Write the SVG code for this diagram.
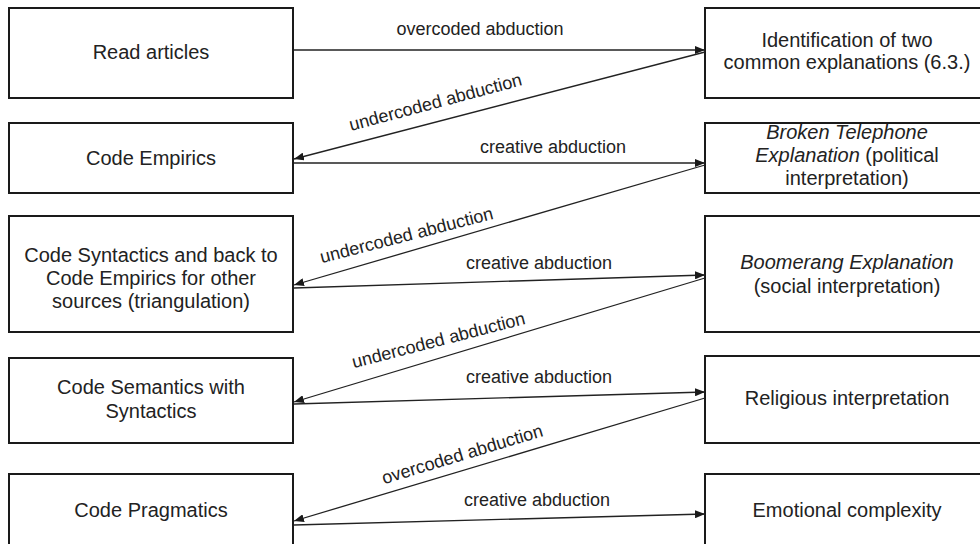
<svg xmlns="http://www.w3.org/2000/svg" width="980" height="544" viewBox="0 0 980 544">
<defs>
<marker id="ah" markerUnits="userSpaceOnUse" markerWidth="10" markerHeight="8" refX="10" refY="4" orient="auto">
<path d="M0,0 L10,4 L0,8 z" fill="#1a1a1a"/>
</marker>
<style>
.box{fill:#fff;stroke:#1a1a1a;stroke-width:2}
.t{font-family:"Liberation Sans",Arial,sans-serif;font-size:20px;fill:#222;text-anchor:middle}
.lbl{font-family:"Liberation Sans",Arial,sans-serif;font-size:18px;fill:#222;text-anchor:middle}
.c{stroke:#222;stroke-width:1.3;fill:none;marker-end:url(#ah)}
.i{font-style:italic}
</style>
</defs>
<rect width="980" height="544" fill="#fff"/>
<g id="n-read"><rect class="box" x="9" y="8" width="284" height="90"/><text class="t" x="151" y="59">Read articles</text></g>
<g id="n-empirics"><rect class="box" x="9" y="123" width="284" height="70"/><text class="t" x="151" y="165">Code Empirics</text></g>
<g id="n-syntactics"><rect class="box" x="9" y="216" width="284" height="116"/><text class="t" x="151" y="262">Code Syntactics and back to</text><text class="t" x="151" y="285">Code Empirics for other</text><text class="t" x="151" y="308">sources (triangulation)</text></g>
<g id="n-semantics"><rect class="box" x="9" y="358" width="284" height="85"/><text class="t" x="151" y="394">Code Semantics with</text><text class="t" x="151" y="418">Syntactics</text></g>
<g id="n-pragmatics"><rect class="box" x="9" y="474" width="284" height="90"/><text class="t" x="151" y="517">Code Pragmatics</text></g>
<g id="n-ident"><rect class="box" x="705" y="8" width="284" height="90"/><text class="t" x="847" y="47">Identification of two</text><text class="t" x="847" y="69">common explanations (6.3.)</text></g>
<g id="n-broken"><rect class="box" x="705" y="123" width="284" height="70"/><text class="t i" x="847" y="139">Broken Telephone</text><text class="t" x="847" y="162"><tspan class="i">Explanation</tspan> (political</text><text class="t" x="847" y="185">interpretation)</text></g>
<g id="n-boomerang"><rect class="box" x="705" y="216" width="284" height="116"/><text class="t i" x="847" y="269">Boomerang Explanation</text><text class="t" x="847" y="293">(social interpretation)</text></g>
<g id="n-religious"><rect class="box" x="705" y="356" width="284" height="87"/><text class="t" x="847" y="405">Religious interpretation</text></g>
<g id="n-emotional"><rect class="box" x="705" y="474" width="284" height="90"/><text class="t" x="847" y="517">Emotional complexity</text></g>
<g id="connectors">
<line class="c" x1="294" y1="50" x2="705" y2="50"/>
<line class="c" x1="705" y1="52" x2="294" y2="159"/>
<line class="c" x1="294" y1="163" x2="705" y2="163"/>
<line class="c" x1="705" y1="165" x2="294" y2="285"/>
<line class="c" x1="294" y1="288" x2="705" y2="275"/>
<line class="c" x1="705" y1="278" x2="294" y2="402"/>
<line class="c" x1="294" y1="404" x2="705" y2="392"/>
<line class="c" x1="705" y1="398" x2="294" y2="521"/>
<line class="c" x1="294" y1="525" x2="705" y2="514"/>
<text class="lbl" x="480" y="35">overcoded abduction</text>
<text class="lbl" transform="translate(437,108) rotate(-15)">undercoded abduction</text>
<text class="lbl" x="553" y="153">creative abduction</text>
<text class="lbl" transform="translate(408,241) rotate(-14.5)">undercoded abduction</text>
<text class="lbl" x="539" y="269">creative abduction</text>
<text class="lbl" transform="translate(440,346) rotate(-14.5)">undercoded abduction</text>
<text class="lbl" x="539" y="383">creative abduction</text>
<text class="lbl" transform="translate(464,460) rotate(-16.8)">overcoded abduction</text>
<text class="lbl" x="537" y="506">creative abduction</text>
</g>
</svg>
